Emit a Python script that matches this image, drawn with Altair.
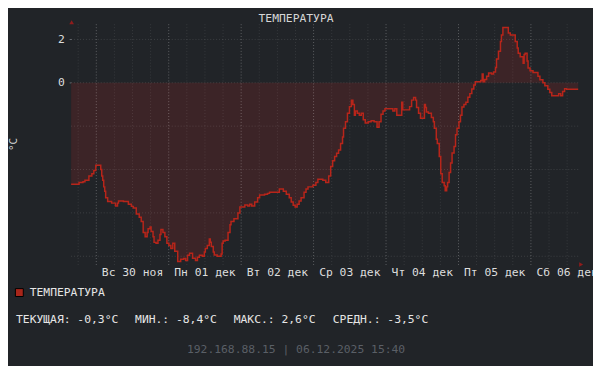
import altair as alt
import pandas as pd

# hours since 29.11.2025 15:40 (start of each measured step)
hours = [0, 2.62, 3.92, 4.58, 5.89, 6.87, 7.52, 8.17, 9.81, 10.14, 10.46, 10.79, 11.12, 11.44,
         12.10, 13.41, 14.71, 15.37, 15.70, 17.33, 18.96, 19.95, 20.60, 21.58, 22.56, 23.22,
         23.87, 24.52, 25.18, 25.50, 26.16, 26.49, 27.14, 27.47, 28.12, 28.77, 29.43, 29.76,
         30.41, 31.06, 31.72, 32.37, 33.03, 33.68, 34.33, 35.31, 36.30, 37.28, 37.93, 38.58,
         39.24, 40.22, 41.20, 41.85, 42.51, 43.49, 44.14, 44.47, 45.12, 45.78, 46.10, 46.43,
         47.09, 47.41, 48.39, 49.70, 50.03, 50.36, 51.01, 51.99, 52.64, 52.97, 53.95, 55.26,
         55.91, 57.55, 58.53, 59.18, 59.84, 60.82, 61.80, 62.45, 64.09, 65.07, 65.72, 67.03,
         68.99, 70.30, 71.28, 72.26, 72.92, 73.57, 74.22, 74.88, 75.53, 76.19, 77.17, 77.82,
         78.48, 80.11, 81.09, 81.75, 83.38, 84.36, 85.34, 86.00, 86.65, 87.30, 87.96, 88.61,
         89.27, 89.92, 90.25, 90.90, 91.55, 92.21, 92.86, 93.35, 93.84, 94.17, 94.82, 95.48,
         96.13, 96.79, 97.44, 98.42, 99.40, 100.38, 101.36, 102.02, 102.67, 103.33, 103.98,
         105.94, 106.60, 107.25, 107.90, 109.21, 109.54, 109.86, 111.17, 112.15, 112.81, 113.46,
         114.12, 114.44, 115.10, 115.75, 116.40, 117.06, 117.39, 117.71, 118.37, 119.35, 120.00,
         120.33, 120.98, 121.31, 121.96, 122.45, 122.94, 123.60, 123.93, 124.42, 124.74, 125.23,
         125.72, 126.21, 126.87, 127.36, 127.85, 128.50, 129.00, 129.48, 130.14, 130.79, 131.45,
         132.10, 132.75, 133.41, 133.90, 135.70, 136.19, 136.51, 137.00, 137.66, 138.31, 139.29,
         139.95, 140.60, 140.93, 141.58, 142.24, 142.56, 143.05, 144.85, 145.51, 147.14, 147.80,
         148.12, 148.78, 149.76, 150.08, 150.41, 151.07, 151.39, 152.05, 153.03, 154.66, 155.32,
         156.30, 156.95, 157.93, 158.59, 159.24, 160.55, 161.53, 162.18, 162.84, 163.49, 164.14,
         165.45, 168.0]
temps = [-4.68, -4.6, -4.56, -4.49, -4.3, -4.2, -4.05, -3.8, -4.0, -4.3, -4.5, -4.8, -5.0, -5.3,
         -5.47, -5.55, -5.68, -5.55, -5.45, -5.47, -5.6, -5.7, -5.77, -6.05, -6.2, -6.4,
         -6.9, -7.1, -6.9, -6.73, -6.65, -6.86, -7.1, -7.36, -7.4, -7.26, -7.0, -6.77,
         -6.9, -7.1, -7.4, -7.5, -7.64, -7.4, -7.77, -8.24, -8.14, -8.1, -8.2, -7.95,
         -7.86, -8.09, -8.2, -8.05, -7.95, -8.0, -7.8, -7.64, -7.5, -7.2, -7.35, -7.55,
         -7.8, -7.94, -8.0, -7.9, -7.4, -7.3, -7.26, -6.9, -6.55, -6.4, -6.27, -6.0,
         -5.73, -5.64, -5.68, -5.6, -5.68, -5.5, -5.3, -5.18, -5.14, -5.1, -5.05, -5.05,
         -4.9, -5.0, -5.14, -5.3, -5.5, -5.65, -5.73, -5.6, -5.45, -5.3, -5.05, -4.9,
         -4.8, -4.73, -4.6, -4.45, -4.5, -4.6, -4.3, -3.86, -3.6, -3.4, -3.25, -3.1,
         -2.8, -2.5, -2.1, -1.8, -1.4, -1.1, -0.8, -1.0, -1.5, -1.3, -1.4, -1.5,
         -1.4, -1.7, -1.86, -1.8, -1.75, -1.8, -2.05, -1.8, -1.45, -1.3, -1.2,
         -1.2, -1.3, -1.2, -1.5, -1.5, -0.9, -1.25, -1.25, -1.1, -0.8, -0.68,
         -0.8, -1.14, -1.4, -1.64, -1.64, -1.0, -1.14, -1.35, -1.4, -1.6, -1.8,
         -2.1, -2.6, -2.8, -3.4, -4.2, -4.6, -4.75, -4.98, -4.8, -4.6, -4.14,
         -3.7, -3.24, -2.94, -2.4, -2.1, -1.8, -1.5, -1.12, -1.0, -0.9, -0.67,
         -0.5, -0.29, -0.1, 0.05, 0.1, 0.4, 0.05, 0.15, 0.3, 0.45, 0.4,
         0.5, 0.7, 1.1, 1.45, 1.9, 2.2, 2.55, 2.3, 2.2, 1.9, 1.6,
         1.36, 1.2, 0.9, 1.3, 1.36, 1.0, 0.68, 0.55, 0.47, 0.3, 0.14,
         0.0, -0.14, -0.3, -0.45, -0.6, -0.6, -0.5, -0.6, -0.4, -0.27, -0.3,
         -0.3, -0.3]

day_labels = ["Вс 30 ноя", "Пн 01 дек", "Вт 02 дек", "Ср 03 дек", "Чт 04 дек", "Пт 05 дек", "Сб 06 дек"]
first_midnight = 8.333  # 30.11 00:00 in hours since start
y_grid = [-8, -6, -4, -2, 0, 2]
y_labels = [0, 2]

title = "ТЕМПЕРАТУРА"
legend_label = "ТЕМПЕРАТУРА"
stats = ["ТЕКУЩАЯ: -0,3°C", "МИН.: -8,4°C", "МАКС.: 2,6°C", "СРЕДН.: -3,5°C"]
footer = "192.168.88.15 | 06.12.2025 15:40"

BG = "#212428"
LINE = "#b8251a"
FILL = "#3c2427"
MONO = "DejaVu Sans Mono"

df = pd.DataFrame({"t": hours, "v": temps})
minor_df = pd.DataFrame({"t": [first_midnight - 6 + 6 * k for k in range(28) if first_midnight - 6 + 6 * k < 168]})
major_df = pd.DataFrame({"t": [first_midnight + 24 * k for k in range(7)]})
hgrid_df = pd.DataFrame({"y": y_grid})
days_df = pd.DataFrame({"t": [first_midnight + 12 + 24 * k for k in range(7)], "label": day_labels})

xs = alt.Scale(domain=[0, 168], nice=False, zero=False)
ys = alt.Scale(domain=[-8.4, 2.7], nice=False, zero=False)

base = alt.Chart(df)
area = base.mark_area(interpolate="step-after", color=FILL, opacity=1).encode(
    x=alt.X("t:Q", scale=xs, axis=None),
    y=alt.Y("v:Q", scale=ys, axis=alt.Axis(values=y_labels, grid=False, domain=False, ticks=True,
                                              tickSize=2, tickColor="#666a70", labelPadding=5,
                                              labelFont=MONO, labelFontSize=11.5, labelColor="#dddddd",
                                              title=None)),
    y2=alt.datum(0),
)
line = base.mark_line(interpolate="step-after", color=LINE, strokeWidth=1.5).encode(
    x=alt.X("t:Q", scale=xs), y=alt.Y("v:Q", scale=ys)
)
minor = alt.Chart(minor_df).mark_rule(color="#ffffff", opacity=0.1, strokeDash=[1, 2]).encode(
    x=alt.X("t:Q", scale=xs)
)
major = alt.Chart(major_df).mark_rule(color="#ffffff", opacity=0.2, strokeDash=[1, 2]).encode(
    x=alt.X("t:Q", scale=xs)
)
hgrid = alt.Chart(hgrid_df).mark_rule(color="#ffffff", opacity=0.13, strokeDash=[1, 2]).encode(
    y=alt.Y("y:Q", scale=ys)
)
days = alt.Chart(days_df).mark_text(font=MONO, fontSize=11.5, color="#dddddd", baseline="middle").encode(
    x=alt.X("t:Q", scale=xs), y=alt.value(252), text="label:N"
)

def txt(s, x, y, **kw):
    return alt.Chart(pd.DataFrame({"s": [s]})).mark_text(font=MONO, **kw).encode(
        x=alt.value(x), y=alt.value(y), text="s:N")

title_t = txt(title, 228, -5, fontSize=11.5, color="#d6d6d6", align="center", baseline="middle")
unit_t = txt("°C", -58, 122, fontSize=11, color="#d6d6d6", align="center", baseline="middle", angle=270)
leg_sq = alt.Chart(pd.DataFrame({"s": [legend_label]})).mark_point(
    shape="square", size=64, filled=True, fill="#a8261a", stroke="#000000", strokeWidth=1, opacity=1
).encode(x=alt.value(-52.5), y=alt.value(272))
leg_t = txt(legend_label, -42, 272, fontSize=11.5, color="#e6e6e6", align="left", baseline="middle")
stat_x = [-55.9, 64.8, 164.8, 265.2]
stat_t = [txt(s, x, 300, fontSize=11.5, color="#e6e6e6", align="left", baseline="middle")
          for s, x in zip(stats, stat_x)]
foot_t = txt(footer, 228, 330.7, fontSize=11.5, color="#5a5f66", align="center", baseline="middle")
arrow_up = alt.Chart(pd.DataFrame({"s": ["a"]})).mark_point(
    shape="triangle-up", size=22, filled=True, color="#8f1c1c", opacity=1
).encode(x=alt.value(0.5), y=alt.value(-2))
arrow_right = alt.Chart(pd.DataFrame({"s": ["a"]})).mark_point(
    shape="triangle-right", size=22, filled=True, color="#8f1c1c", opacity=1
).encode(x=alt.value(517), y=alt.value(243.5))

chart = alt.layer(
    area, minor, major, hgrid, line, days, title_t, unit_t, leg_sq, leg_t, *stat_t, foot_t,
    arrow_up, arrow_right
).properties(
    width=514, height=244,
    background=BG,
    padding={"left": 64, "top": 14, "right": 15, "bottom": 100},
    autosize=alt.AutoSizeParams(type="none"),
).configure_view(stroke=None)

chart.save("out.html", embed_options={"renderer": "svg", "actions": False})
